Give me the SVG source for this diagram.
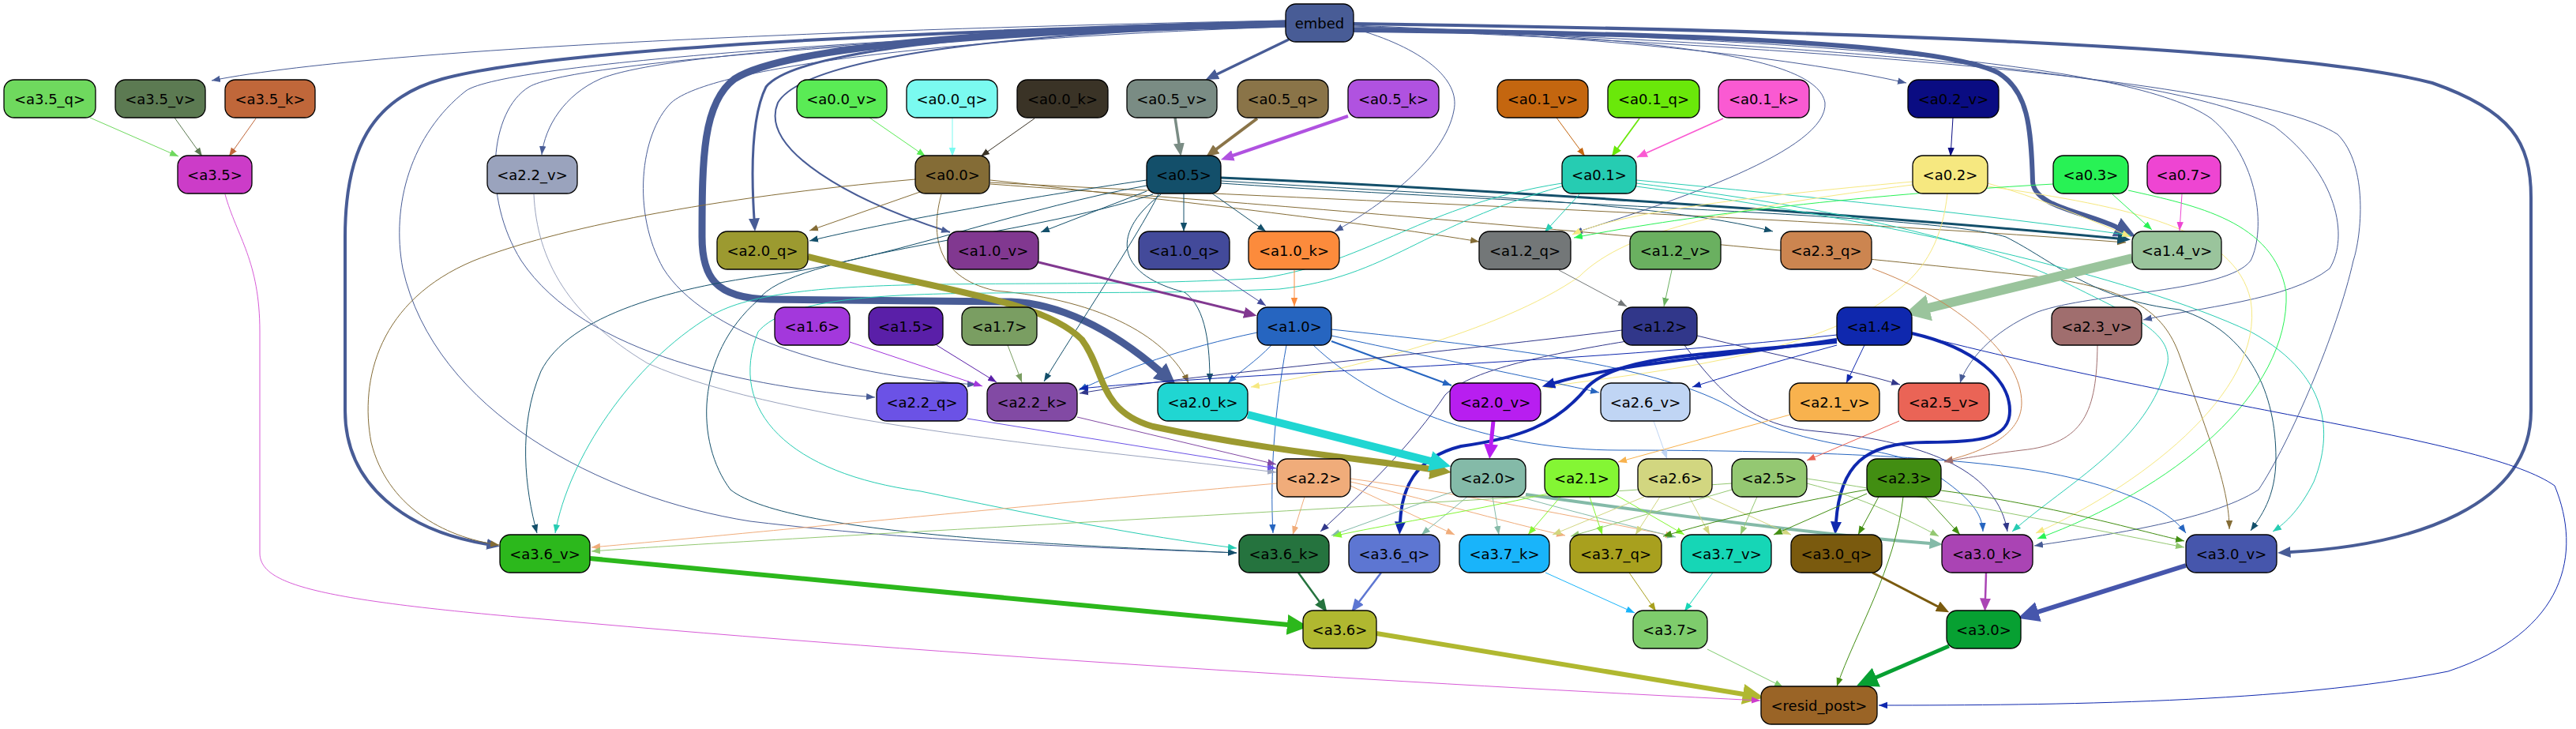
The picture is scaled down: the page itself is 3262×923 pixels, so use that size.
<svg xmlns="http://www.w3.org/2000/svg" width="3262" height="923" viewBox="0 0 3262 923">
<style>
.n rect{stroke:#000;stroke-width:1.3}
.n text{font-family:"DejaVu Sans","Liberation Sans",sans-serif;font-size:18px;text-anchor:middle;dominant-baseline:central;fill:#000}
#edges path{fill:none}
</style>
<defs>
<marker id="s-E" markerUnits="userSpaceOnUse" markerWidth="12" markerHeight="10" refX="11" refY="5" orient="auto"><path d="M0,0.8L11,5L0,9.2z" fill="#485c96"/></marker>
<marker id="s-35q" markerUnits="userSpaceOnUse" markerWidth="12" markerHeight="10" refX="11" refY="5" orient="auto"><path d="M0,0.8L11,5L0,9.2z" fill="#6fd95e"/></marker>
<marker id="s-35v" markerUnits="userSpaceOnUse" markerWidth="12" markerHeight="10" refX="11" refY="5" orient="auto"><path d="M0,0.8L11,5L0,9.2z" fill="#5c7a52"/></marker>
<marker id="s-35k" markerUnits="userSpaceOnUse" markerWidth="12" markerHeight="10" refX="11" refY="5" orient="auto"><path d="M0,0.8L11,5L0,9.2z" fill="#c0673a"/></marker>
<marker id="s-00v" markerUnits="userSpaceOnUse" markerWidth="12" markerHeight="10" refX="11" refY="5" orient="auto"><path d="M0,0.8L11,5L0,9.2z" fill="#5aeb55"/></marker>
<marker id="s-00q" markerUnits="userSpaceOnUse" markerWidth="12" markerHeight="10" refX="11" refY="5" orient="auto"><path d="M0,0.8L11,5L0,9.2z" fill="#7afaf0"/></marker>
<marker id="s-00k" markerUnits="userSpaceOnUse" markerWidth="12" markerHeight="10" refX="11" refY="5" orient="auto"><path d="M0,0.8L11,5L0,9.2z" fill="#3a3326"/></marker>
<marker id="s-01v" markerUnits="userSpaceOnUse" markerWidth="12" markerHeight="10" refX="11" refY="5" orient="auto"><path d="M0,0.8L11,5L0,9.2z" fill="#c4660f"/></marker>
<marker id="s-01q" markerUnits="userSpaceOnUse" markerWidth="14" markerHeight="12" refX="13" refY="6" orient="auto"><path d="M0,0.5L13,6L0,11.5z" fill="#6ae80a"/></marker>
<marker id="s-01k" markerUnits="userSpaceOnUse" markerWidth="14" markerHeight="12" refX="13" refY="6" orient="auto"><path d="M0,0.5L13,6L0,11.5z" fill="#fa5ad2"/></marker>
<marker id="s-02v" markerUnits="userSpaceOnUse" markerWidth="12" markerHeight="10" refX="11" refY="5" orient="auto"><path d="M0,0.8L11,5L0,9.2z" fill="#0a0c82"/></marker>
<marker id="s-00" markerUnits="userSpaceOnUse" markerWidth="12" markerHeight="10" refX="11" refY="5" orient="auto"><path d="M0,0.8L11,5L0,9.2z" fill="#846c36"/></marker>
<marker id="s-05" markerUnits="userSpaceOnUse" markerWidth="12" markerHeight="10" refX="11" refY="5" orient="auto"><path d="M0,0.8L11,5L0,9.2z" fill="#134f6a"/></marker>
<marker id="s-01" markerUnits="userSpaceOnUse" markerWidth="12" markerHeight="10" refX="11" refY="5" orient="auto"><path d="M0,0.8L11,5L0,9.2z" fill="#26ccb2"/></marker>
<marker id="s-02" markerUnits="userSpaceOnUse" markerWidth="12" markerHeight="10" refX="11" refY="5" orient="auto"><path d="M0,0.8L11,5L0,9.2z" fill="#f6e880"/></marker>
<marker id="s-03" markerUnits="userSpaceOnUse" markerWidth="12" markerHeight="10" refX="11" refY="5" orient="auto"><path d="M0,0.8L11,5L0,9.2z" fill="#28f255"/></marker>
<marker id="s-07" markerUnits="userSpaceOnUse" markerWidth="12" markerHeight="10" refX="11" refY="5" orient="auto"><path d="M0,0.8L11,5L0,9.2z" fill="#ee45d2"/></marker>
<marker id="s-10q" markerUnits="userSpaceOnUse" markerWidth="12" markerHeight="10" refX="11" refY="5" orient="auto"><path d="M0,0.8L11,5L0,9.2z" fill="#434a9a"/></marker>
<marker id="s-10k" markerUnits="userSpaceOnUse" markerWidth="12" markerHeight="10" refX="11" refY="5" orient="auto"><path d="M0,0.8L11,5L0,9.2z" fill="#fc8b3c"/></marker>
<marker id="s-12q" markerUnits="userSpaceOnUse" markerWidth="12" markerHeight="10" refX="11" refY="5" orient="auto"><path d="M0,0.8L11,5L0,9.2z" fill="#737778"/></marker>
<marker id="s-12v" markerUnits="userSpaceOnUse" markerWidth="12" markerHeight="10" refX="11" refY="5" orient="auto"><path d="M0,0.8L11,5L0,9.2z" fill="#6ab060"/></marker>
<marker id="s-23q" markerUnits="userSpaceOnUse" markerWidth="12" markerHeight="10" refX="11" refY="5" orient="auto"><path d="M0,0.8L11,5L0,9.2z" fill="#cc8550"/></marker>
<marker id="s-16" markerUnits="userSpaceOnUse" markerWidth="12" markerHeight="10" refX="11" refY="5" orient="auto"><path d="M0,0.8L11,5L0,9.2z" fill="#a338dc"/></marker>
<marker id="s-15" markerUnits="userSpaceOnUse" markerWidth="12" markerHeight="10" refX="11" refY="5" orient="auto"><path d="M0,0.8L11,5L0,9.2z" fill="#5a1fa8"/></marker>
<marker id="s-17" markerUnits="userSpaceOnUse" markerWidth="12" markerHeight="10" refX="11" refY="5" orient="auto"><path d="M0,0.8L11,5L0,9.2z" fill="#7a9e62"/></marker>
<marker id="s-10" markerUnits="userSpaceOnUse" markerWidth="12" markerHeight="10" refX="11" refY="5" orient="auto"><path d="M0,0.8L11,5L0,9.2z" fill="#2665c0"/></marker>
<marker id="s-12" markerUnits="userSpaceOnUse" markerWidth="12" markerHeight="10" refX="11" refY="5" orient="auto"><path d="M0,0.8L11,5L0,9.2z" fill="#31378a"/></marker>
<marker id="s-14" markerUnits="userSpaceOnUse" markerWidth="12" markerHeight="10" refX="11" refY="5" orient="auto"><path d="M0,0.8L11,5L0,9.2z" fill="#0f28ae"/></marker>
<marker id="s-23v" markerUnits="userSpaceOnUse" markerWidth="12" markerHeight="10" refX="11" refY="5" orient="auto"><path d="M0,0.8L11,5L0,9.2z" fill="#a06e6e"/></marker>
<marker id="s-22v" markerUnits="userSpaceOnUse" markerWidth="12" markerHeight="10" refX="11" refY="5" orient="auto"><path d="M0,0.8L11,5L0,9.2z" fill="#9aa3bd"/></marker>
<marker id="s-22q" markerUnits="userSpaceOnUse" markerWidth="12" markerHeight="10" refX="11" refY="5" orient="auto"><path d="M0,0.8L11,5L0,9.2z" fill="#6b52e6"/></marker>
<marker id="s-22k" markerUnits="userSpaceOnUse" markerWidth="12" markerHeight="10" refX="11" refY="5" orient="auto"><path d="M0,0.8L11,5L0,9.2z" fill="#824aa4"/></marker>
<marker id="s-21v" markerUnits="userSpaceOnUse" markerWidth="12" markerHeight="10" refX="11" refY="5" orient="auto"><path d="M0,0.8L11,5L0,9.2z" fill="#f8b24e"/></marker>
<marker id="s-26v" markerUnits="userSpaceOnUse" markerWidth="12" markerHeight="10" refX="11" refY="5" orient="auto"><path d="M0,0.8L11,5L0,9.2z" fill="#c0d5f4"/></marker>
<marker id="s-25v" markerUnits="userSpaceOnUse" markerWidth="12" markerHeight="10" refX="11" refY="5" orient="auto"><path d="M0,0.8L11,5L0,9.2z" fill="#ea6456"/></marker>
<marker id="s-22" markerUnits="userSpaceOnUse" markerWidth="12" markerHeight="10" refX="11" refY="5" orient="auto"><path d="M0,0.8L11,5L0,9.2z" fill="#f0ac7a"/></marker>
<marker id="s-20" markerUnits="userSpaceOnUse" markerWidth="12" markerHeight="10" refX="11" refY="5" orient="auto"><path d="M0,0.8L11,5L0,9.2z" fill="#84baa8"/></marker>
<marker id="s-21" markerUnits="userSpaceOnUse" markerWidth="12" markerHeight="10" refX="11" refY="5" orient="auto"><path d="M0,0.8L11,5L0,9.2z" fill="#84f634"/></marker>
<marker id="s-26" markerUnits="userSpaceOnUse" markerWidth="12" markerHeight="10" refX="11" refY="5" orient="auto"><path d="M0,0.8L11,5L0,9.2z" fill="#d2d680"/></marker>
<marker id="s-25" markerUnits="userSpaceOnUse" markerWidth="12" markerHeight="10" refX="11" refY="5" orient="auto"><path d="M0,0.8L11,5L0,9.2z" fill="#94c872"/></marker>
<marker id="s-23" markerUnits="userSpaceOnUse" markerWidth="12" markerHeight="10" refX="11" refY="5" orient="auto"><path d="M0,0.8L11,5L0,9.2z" fill="#428e12"/></marker>
<marker id="s-37k" markerUnits="userSpaceOnUse" markerWidth="12" markerHeight="10" refX="11" refY="5" orient="auto"><path d="M0,0.8L11,5L0,9.2z" fill="#19b4fa"/></marker>
<marker id="s-37q" markerUnits="userSpaceOnUse" markerWidth="12" markerHeight="10" refX="11" refY="5" orient="auto"><path d="M0,0.8L11,5L0,9.2z" fill="#a8a01e"/></marker>
<marker id="s-37v" markerUnits="userSpaceOnUse" markerWidth="12" markerHeight="10" refX="11" refY="5" orient="auto"><path d="M0,0.8L11,5L0,9.2z" fill="#16d6b6"/></marker>
<marker id="s-37" markerUnits="userSpaceOnUse" markerWidth="12" markerHeight="10" refX="11" refY="5" orient="auto"><path d="M0,0.8L11,5L0,9.2z" fill="#7ecc6c"/></marker>
<marker id="s-35" markerUnits="userSpaceOnUse" markerWidth="12" markerHeight="10" refX="11" refY="5" orient="auto"><path d="M0,0.8L11,5L0,9.2z" fill="#cc3ccc"/></marker>
<marker id="m-E" markerUnits="userSpaceOnUse" markerWidth="17" markerHeight="14" refX="0.5" refY="7" orient="auto"><path d="M0,0L16.5,7L0,14z" fill="#485c96"/></marker>
<marker id="m-05v" markerUnits="userSpaceOnUse" markerWidth="17" markerHeight="14" refX="0.5" refY="7" orient="auto"><path d="M0,0L16.5,7L0,14z" fill="#7a8c84"/></marker>
<marker id="m-05q" markerUnits="userSpaceOnUse" markerWidth="17" markerHeight="14" refX="0.5" refY="7" orient="auto"><path d="M0,0L16.5,7L0,14z" fill="#8a7448"/></marker>
<marker id="m-05k" markerUnits="userSpaceOnUse" markerWidth="17" markerHeight="14" refX="0.5" refY="7" orient="auto"><path d="M0,0L16.5,7L0,14z" fill="#b052e0"/></marker>
<marker id="m-05" markerUnits="userSpaceOnUse" markerWidth="17" markerHeight="14" refX="0.5" refY="7" orient="auto"><path d="M0,0L16.5,7L0,14z" fill="#134f6a"/></marker>
<marker id="m-10v" markerUnits="userSpaceOnUse" markerWidth="17" markerHeight="14" refX="0.5" refY="7" orient="auto"><path d="M0,0L16.5,7L0,14z" fill="#813890"/></marker>
<marker id="m-14" markerUnits="userSpaceOnUse" markerWidth="17" markerHeight="14" refX="0.5" refY="7" orient="auto"><path d="M0,0L16.5,7L0,14z" fill="#0f28ae"/></marker>
<marker id="m-20" markerUnits="userSpaceOnUse" markerWidth="17" markerHeight="14" refX="0.5" refY="7" orient="auto"><path d="M0,0L16.5,7L0,14z" fill="#84baa8"/></marker>
<marker id="m-20v" markerUnits="userSpaceOnUse" markerWidth="19" markerHeight="18" refX="0.5" refY="9" orient="auto"><path d="M0,0L18.5,9L0,18z" fill="#b81ef0"/></marker>
<marker id="m-36k" markerUnits="userSpaceOnUse" markerWidth="17" markerHeight="14" refX="0.5" refY="7" orient="auto"><path d="M0,0L16.5,7L0,14z" fill="#25733e"/></marker>
<marker id="m-36q" markerUnits="userSpaceOnUse" markerWidth="17" markerHeight="14" refX="0.5" refY="7" orient="auto"><path d="M0,0L16.5,7L0,14z" fill="#5d76d2"/></marker>
<marker id="m-30q" markerUnits="userSpaceOnUse" markerWidth="17" markerHeight="14" refX="0.5" refY="7" orient="auto"><path d="M0,0L16.5,7L0,14z" fill="#7a5a0e"/></marker>
<marker id="m-30k" markerUnits="userSpaceOnUse" markerWidth="17" markerHeight="14" refX="0.5" refY="7" orient="auto"><path d="M0,0L16.5,7L0,14z" fill="#aa44b4"/></marker>
<marker id="b-E" markerUnits="userSpaceOnUse" markerWidth="28" markerHeight="26" refX="1" refY="13" orient="auto"><path d="M0,0L27,13L0,26z" fill="#485c96"/></marker>
<marker id="b-20q" markerUnits="userSpaceOnUse" markerWidth="28" markerHeight="26" refX="1" refY="13" orient="auto"><path d="M0,0L27,13L0,26z" fill="#9c9a30"/></marker>
<marker id="b-20k" markerUnits="userSpaceOnUse" markerWidth="28" markerHeight="26" refX="1" refY="13" orient="auto"><path d="M0,0L27,13L0,26z" fill="#20d6d2"/></marker>
<marker id="b-36v" markerUnits="userSpaceOnUse" markerWidth="28" markerHeight="26" refX="1" refY="13" orient="auto"><path d="M0,0L27,13L0,26z" fill="#2cb81c"/></marker>
<marker id="b-30v" markerUnits="userSpaceOnUse" markerWidth="28" markerHeight="26" refX="1" refY="13" orient="auto"><path d="M0,0L27,13L0,26z" fill="#4656ac"/></marker>
<marker id="b-36" markerUnits="userSpaceOnUse" markerWidth="28" markerHeight="26" refX="1" refY="13" orient="auto"><path d="M0,0L27,13L0,26z" fill="#b0b830"/></marker>
<marker id="b-30" markerUnits="userSpaceOnUse" markerWidth="28" markerHeight="26" refX="1" refY="13" orient="auto"><path d="M0,0L27,13L0,26z" fill="#07a032"/></marker>
<marker id="h-14v" markerUnits="userSpaceOnUse" markerWidth="34" markerHeight="34" refX="1" refY="17" orient="auto"><path d="M0,0L32,17L0,34z" fill="#9ac49c"/></marker>
</defs>
<rect width="3262" height="923" fill="#fff"/>
<g id="edges">
<!-- embed -->
<path d="M1628,26 C1200,34 500,56 268,102" stroke="#485c96" stroke-width="1" marker-end="url(#s-E)"/>
<path d="M1628,32 C1150,45 830,70 760,100 C715,120 690,160 686,196" stroke="#485c96" stroke-width="1" marker-end="url(#s-E)"/>
<path d="M1628,33 C1150,46 720,80 670,110 C620,140 610,250 660,330 C740,450 950,490 1108,503" stroke="#485c96" stroke-width="1" marker-end="url(#s-E)"/>
<path d="M1628,34 C1200,48 900,85 850,130 C810,170 800,270 840,340 C890,420 1050,475 1236,487" stroke="#485c96" stroke-width="1" marker-end="url(#s-E)"/>
<path d="M1628,31 C1150,44 640,80 590,115 C520,170 495,260 510,340 C550,520 760,630 950,660 C1200,690 1450,695 1566,700" stroke="#485c96" stroke-width="1" marker-end="url(#s-E)"/>
<path d="M1628,28 C1150,40 700,62 560,100 C470,125 437,190 437,300 L437,520 C437,615 515,672 617,689" stroke="#485c96" stroke-width="4" marker-end="url(#m-E)"/>
<path d="M1628,30 C1300,38 1000,55 930,100 C890,130 889,200 889,300 C889,350 905,378 975,379 L1280,382 C1340,384 1405,415 1469,470" stroke="#485c96" stroke-width="9" marker-end="url(#b-E)"/>
<path d="M1628,30 C1300,36 1010,60 970,110 C950,150 952,230 955,277" stroke="#485c96" stroke-width="3" marker-end="url(#m-E)"/>
<path d="M1628,32 C1300,40 1020,70 985,130 C960,190 1080,255 1203,294" stroke="#485c96" stroke-width="2" marker-end="url(#s-E)"/>
<path d="M1632,50 L1541,94" stroke="#485c96" stroke-width="3.5" marker-end="url(#m-E)"/>
<path d="M1714,36 C1800,60 1850,100 1841,140 C1830,200 1750,260 1690,293" stroke="#485c96" stroke-width="1" marker-end="url(#s-E)"/>
<path d="M1714,32 C2100,48 2300,70 2311,130 C2316,190 2120,255 1993,295" stroke="#485c96" stroke-width="1" marker-end="url(#s-E)"/>
<path d="M1714,33 C2000,45 2260,70 2414,105" stroke="#485c96" stroke-width="1" marker-end="url(#s-E)"/>
<path d="M1714,38 C2100,42 2450,52 2530,92 C2568,115 2572,160 2574,230 C2576,262 2640,268 2681,288" stroke="#485c96" stroke-width="6" marker-end="url(#b-E)"/>
<path d="M1714,30 C2300,38 2900,58 3080,105 C3180,140 3205,180 3205,250 L3205,520 C3205,640 3060,690 2900,699" stroke="#485c96" stroke-width="4" marker-end="url(#m-E)"/>
<path d="M1714,34 C2300,50 2700,80 2800,150 C2860,200 2870,290 2850,330 C2820,370 2650,370 2580,395 C2520,420 2490,460 2482,485" stroke="#485c96" stroke-width="1" marker-end="url(#s-E)"/>
<path d="M1714,35 C2300,55 2750,90 2880,160 C2960,220 2975,300 2950,340 C2900,380 2780,390 2714,405" stroke="#485c96" stroke-width="1" marker-end="url(#s-E)"/>
<path d="M1714,36 C2300,60 2850,100 2960,170 C3000,210 2990,300 2980,330 C2960,420 2900,560 2860,620 C2800,660 2650,680 2576,691" stroke="#485c96" stroke-width="1" marker-end="url(#s-E)"/>
<!-- row B to C -->
<path d="M114,149 L226,198" stroke="#6fd95e" stroke-width="1" marker-end="url(#s-35q)"/>
<path d="M221,149 L256,198" stroke="#5c7a52" stroke-width="1" marker-end="url(#s-35v)"/>
<path d="M324,150 L290,198" stroke="#c0673a" stroke-width="1" marker-end="url(#s-35k)"/>
<path d="M1101,149 L1172,198" stroke="#5aeb55" stroke-width="1" marker-end="url(#s-00v)"/>
<path d="M1206,149 L1206,198" stroke="#7afaf0" stroke-width="1" marker-end="url(#s-00q)"/>
<path d="M1310,150 L1242,198" stroke="#3a3326" stroke-width="1" marker-end="url(#s-00k)"/>
<path d="M1488,149 L1493,182" stroke="#7a8c84" stroke-width="3.5" marker-end="url(#m-05v)"/>
<path d="M1592,150 L1540,189" stroke="#8a7448" stroke-width="4" marker-end="url(#m-05q)"/>
<path d="M1707,147 L1561,197" stroke="#b052e0" stroke-width="4" marker-end="url(#m-05k)"/>
<path d="M1971,149 L2007,198" stroke="#c4660f" stroke-width="1" marker-end="url(#s-01v)"/>
<path d="M2076,150 L2041,198" stroke="#6ae80a" stroke-width="1.8" marker-end="url(#s-01q)"/>
<path d="M2182,150 L2073,199" stroke="#fa5ad2" stroke-width="1.8" marker-end="url(#s-01k)"/>
<path d="M2473,149 L2470,198" stroke="#0a0c82" stroke-width="1" marker-end="url(#s-02v)"/>
<!-- a0.0 -->
<path d="M1165,243 L1025,292" stroke="#846c36" stroke-width="1" marker-end="url(#s-00)"/>
<path d="M1254,228 C1500,255 1750,285 1873,306" stroke="#846c36" stroke-width="1" marker-end="url(#s-00)"/>
<path d="M1254,231 C1700,255 2200,270 2692,307" stroke="#846c36" stroke-width="1" marker-end="url(#s-00)"/>
<path d="M1254,233 C1800,272 2300,320 2560,348 C2700,362 2740,395 2760,450 C2800,560 2823,620 2823,670" stroke="#846c36" stroke-width="1" marker-end="url(#s-00)"/>
<path d="M1159,227 C900,250 700,290 600,330 C480,380 455,480 470,560 C490,640 560,680 632,690" stroke="#846c36" stroke-width="1" marker-end="url(#s-00)"/>
<path d="M1192,246 C1180,290 1180,350 1260,368 C1400,380 1480,430 1505,485" stroke="#846c36" stroke-width="1" marker-end="url(#s-00)"/>
<!-- a0.5 -->
<path d="M1452,228 C1300,250 1120,282 1025,305" stroke="#134f6a" stroke-width="1" marker-end="url(#s-05)"/>
<path d="M1452,242 L1318,294" stroke="#134f6a" stroke-width="1" marker-end="url(#s-05)"/>
<path d="M1499,245 L1499,293" stroke="#134f6a" stroke-width="1" marker-end="url(#s-05)"/>
<path d="M1535,245 L1603,293" stroke="#134f6a" stroke-width="1" marker-end="url(#s-05)"/>
<path d="M1546,229 C1800,245 2100,255 2245,293" stroke="#134f6a" stroke-width="1" marker-end="url(#s-05)"/>
<path d="M1546,225 C1900,240 2400,275 2682,302" stroke="#134f6a" stroke-width="3" marker-end="url(#m-05)"/>
<path d="M1546,232 C2000,262 2450,272 2540,300 C2600,330 2650,380 2760,392 C2850,420 2882,500 2882,580 C2882,630 2862,655 2850,672" stroke="#134f6a" stroke-width="1" marker-end="url(#s-05)"/>
<path d="M1467,246 C1440,300 1360,420 1322,483" stroke="#134f6a" stroke-width="1" marker-end="url(#s-05)"/>
<path d="M1470,246 C1400,300 1420,350 1500,370 C1528,390 1532,440 1532,484" stroke="#134f6a" stroke-width="1" marker-end="url(#s-05)"/>
<path d="M1452,235 C1300,262 1150,320 1000,345 C850,362 720,400 685,470 C655,540 665,620 680,675" stroke="#134f6a" stroke-width="1" marker-end="url(#s-05)"/>
<path d="M1460,246 C1300,300 1000,320 960,380 C880,450 880,560 925,620 C1000,680 1400,692 1566,700" stroke="#134f6a" stroke-width="1" marker-end="url(#s-05)"/>
<!-- a0.1 -->
<path d="M2000,246 L1956,294" stroke="#26ccb2" stroke-width="1" marker-end="url(#s-01)"/>
<path d="M2072,228 C2300,250 2500,270 2698,298" stroke="#26ccb2" stroke-width="1" marker-end="url(#s-01)"/>
<path d="M2072,232 C2300,260 2500,300 2620,360 C2700,400 2750,420 2745,460 C2720,560 2620,610 2548,673" stroke="#26ccb2" stroke-width="1" marker-end="url(#s-01)"/>
<path d="M2072,236 C2400,280 2700,350 2850,420 C2960,480 2950,560 2930,610 C2910,650 2890,665 2878,673" stroke="#26ccb2" stroke-width="1" marker-end="url(#s-01)"/>
<path d="M1978,232 C1800,260 1740,330 1600,352 C1300,370 1000,340 900,400 C800,460 720,580 703,675" stroke="#26ccb2" stroke-width="1" marker-end="url(#s-01)"/>
<path d="M1978,236 C1800,285 1760,350 1620,366 C1300,380 1020,350 960,420 C920,520 1000,600 1166,622 C1300,650 1450,680 1566,694" stroke="#26ccb2" stroke-width="1" marker-end="url(#s-01)"/>
<!-- a0.2 a0.3 a0.7 -->
<path d="M2422,230 C2200,250 2050,270 1991,297" stroke="#f6e880" stroke-width="1" marker-end="url(#s-02)"/>
<path d="M2517,232 C2580,250 2640,275 2698,300" stroke="#f6e880" stroke-width="1" marker-end="url(#s-02)"/>
<path d="M2422,234 C2200,262 2060,290 2000,350 C1900,420 1700,470 1584,490" stroke="#f6e880" stroke-width="1" marker-end="url(#s-02)"/>
<path d="M2466,245 C2460,300 2440,340 2400,370 C2300,450 2100,470 1955,490" stroke="#f6e880" stroke-width="1" marker-end="url(#s-02)"/>
<path d="M2517,236 C2700,262 2830,290 2850,380 C2870,500 2700,620 2578,675" stroke="#f6e880" stroke-width="1" marker-end="url(#s-02)"/>
<path d="M2600,233 C2300,250 2100,280 1993,301" stroke="#28f255" stroke-width="1" marker-end="url(#s-03)"/>
<path d="M2675,246 L2725,291" stroke="#28f255" stroke-width="1" marker-end="url(#s-03)"/>
<path d="M2695,241 C2780,260 2880,280 2895,370 C2900,500 2750,620 2580,682" stroke="#28f255" stroke-width="1" marker-end="url(#s-03)"/>
<path d="M2763,246 L2760,292" stroke="#ee45d2" stroke-width="1" marker-end="url(#s-07)"/>
<!-- row D to E -->
<path d="M1315,332 L1576,396" stroke="#813890" stroke-width="3" marker-end="url(#m-10v)"/>
<path d="M1535,342 L1603,387" stroke="#434a9a" stroke-width="1" marker-end="url(#s-10q)"/>
<path d="M1639,342 L1639,388" stroke="#fc8b3c" stroke-width="1" marker-end="url(#s-10k)"/>
<path d="M1974,342 L2060,388" stroke="#737778" stroke-width="1" marker-end="url(#s-12q)"/>
<path d="M2117,342 L2107,388" stroke="#6ab060" stroke-width="1" marker-end="url(#s-12v)"/>
<path d="M2700,327 L2442,390" stroke="#9ac49c" stroke-width="12" marker-end="url(#h-14v)"/>
<path d="M2371,340 C2480,380 2560,450 2560,510 C2560,552 2510,572 2462,584" stroke="#cc8550" stroke-width="1" marker-end="url(#s-23q)"/>
<!-- row E to F -->
<path d="M1076,433 L1244,489" stroke="#a338dc" stroke-width="1" marker-end="url(#s-16)"/>
<path d="M1186,437 L1262,484" stroke="#5a1fa8" stroke-width="1" marker-end="url(#s-15)"/>
<path d="M1276,437 L1294,484" stroke="#7a9e62" stroke-width="1" marker-end="url(#s-17)"/>
<path d="M1592,421 C1500,440 1420,468 1366,494" stroke="#2665c0" stroke-width="1" marker-end="url(#s-10)"/>
<path d="M1610,437 C1590,458 1570,470 1555,485" stroke="#2665c0" stroke-width="1" marker-end="url(#s-10)"/>
<path d="M1686,432 L1838,488" stroke="#2665c0" stroke-width="2" marker-end="url(#s-10)"/>
<path d="M1686,425 C1800,450 1950,480 2025,497" stroke="#2665c0" stroke-width="1" marker-end="url(#s-10)"/>
<path d="M1686,417 C1900,440 2100,460 2200,520 C2300,575 2400,560 2450,600 C2495,630 2510,650 2511,673" stroke="#2665c0" stroke-width="1" marker-end="url(#s-10)"/>
<path d="M1663,437 C1750,520 1900,570 2050,570 C2300,570 2500,580 2600,600 C2700,620 2750,650 2768,675" stroke="#2665c0" stroke-width="1" marker-end="url(#s-10)"/>
<path d="M1629,437 C1614,520 1608,600 1612,675" stroke="#2665c0" stroke-width="1" marker-end="url(#s-10)"/>
<path d="M2054,418 C1800,450 1500,475 1367,498" stroke="#31378a" stroke-width="1" marker-end="url(#s-12)"/>
<path d="M2149,425 C2250,450 2350,470 2406,487" stroke="#31378a" stroke-width="1" marker-end="url(#s-12)"/>
<path d="M2060,432 C1950,450 1860,470 1830,500 C1790,560 1730,620 1672,673" stroke="#31378a" stroke-width="1" marker-end="url(#s-12)"/>
<path d="M2133,437 C2180,500 2220,540 2300,546 C2450,560 2530,600 2542,673" stroke="#31378a" stroke-width="1" marker-end="url(#s-12)"/>
<path d="M2326,430 C2200,450 2060,458 1968,485" stroke="#0f28ae" stroke-width="4" marker-end="url(#m-14)"/>
<path d="M2326,437 C2250,458 2200,472 2143,490" stroke="#0f28ae" stroke-width="1" marker-end="url(#s-14)"/>
<path d="M2361,437 L2338,485" stroke="#0f28ae" stroke-width="1" marker-end="url(#s-14)"/>
<path d="M2326,424 C2000,460 1600,470 1367,492" stroke="#0f28ae" stroke-width="1" marker-end="url(#s-14)"/>
<path d="M2326,433 C2150,450 2050,450 2010,490 C1970,540 1920,555 1850,565 C1790,580 1775,620 1773,661" stroke="#0f28ae" stroke-width="4" marker-end="url(#m-14)"/>
<path d="M2421,422 C2500,440 2545,480 2545,520 C2545,555 2510,560 2440,560 C2360,560 2330,590 2325,661" stroke="#0f28ae" stroke-width="4" marker-end="url(#m-14)"/>
<path d="M2421,422 C2800,520 3150,555 3235,615 C3270,700 3250,800 3100,850 C2900,890 2600,893 2379,893" stroke="#0f28ae" stroke-width="1" marker-end="url(#s-14)"/>
<path d="M2656,437 C2655,520 2640,562 2560,570 C2520,575 2485,580 2462,585" stroke="#a06e6e" stroke-width="1" marker-end="url(#s-23v)"/>
<!-- row F to G -->
<path d="M676,246 C680,330 720,400 820,460 C1000,540 1400,570 1616,598" stroke="#9aa3bd" stroke-width="1" marker-end="url(#s-22v)"/>
<path d="M1225,530 L1616,593" stroke="#6b52e6" stroke-width="1" marker-end="url(#s-22q)"/>
<path d="M1364,528 L1616,588" stroke="#824aa4" stroke-width="1" marker-end="url(#s-22k)"/>
<path d="M1023,325 C1200,370 1320,380 1370,430 C1400,470 1390,520 1460,540 C1600,570 1720,580 1812,594" stroke="#9c9a30" stroke-width="8" marker-end="url(#b-20q)"/>
<path d="M1580,525 L1812,584" stroke="#20d6d2" stroke-width="10" marker-end="url(#b-20k)"/>
<path d="M1891,533 L1888,563" stroke="#b81ef0" stroke-width="5" marker-end="url(#m-20v)"/>
<path d="M2267,525 L2049,585" stroke="#f8b24e" stroke-width="1" marker-end="url(#s-21v)"/>
<path d="M2094,533 L2111,581" stroke="#c0d5f4" stroke-width="1" marker-end="url(#s-26v)"/>
<path d="M2405,533 L2288,583" stroke="#ea6456" stroke-width="1" marker-end="url(#s-25v)"/>
<!-- row G to H -->
<path d="M1617,612 C1300,640 900,680 749,693" stroke="#f0ac7a" stroke-width="1" marker-end="url(#s-22)"/>
<path d="M1652,629 L1637,677" stroke="#f0ac7a" stroke-width="1" marker-end="url(#s-22)"/>
<path d="M1710,615 L1842,677" stroke="#f0ac7a" stroke-width="1" marker-end="url(#s-22)"/>
<path d="M1710,610 C1800,630 1900,660 1982,678" stroke="#f0ac7a" stroke-width="1" marker-end="url(#s-22)"/>
<path d="M1710,606 C1850,625 2000,655 2120,679" stroke="#f0ac7a" stroke-width="1" marker-end="url(#s-22)"/>
<path d="M1838,623 L1686,678" stroke="#84baa8" stroke-width="1" marker-end="url(#s-20)"/>
<path d="M1858,629 L1800,677" stroke="#84baa8" stroke-width="1" marker-end="url(#s-20)"/>
<path d="M1890,629 L1898,677" stroke="#84baa8" stroke-width="1" marker-end="url(#s-20)"/>
<path d="M1924,629 C2000,650 2060,665 2122,680" stroke="#84baa8" stroke-width="1" marker-end="url(#s-20)"/>
<path d="M1932,626 C2100,650 2300,676 2444,688" stroke="#84baa8" stroke-width="4" marker-end="url(#m-20)"/>
<path d="M1960,625 C1850,650 1750,665 1688,679" stroke="#84f634" stroke-width="1" marker-end="url(#s-21)"/>
<path d="M1976,629 L1935,677" stroke="#84f634" stroke-width="1" marker-end="url(#s-21)"/>
<path d="M2013,629 L2029,677" stroke="#84f634" stroke-width="1" marker-end="url(#s-21)"/>
<path d="M2045,626 L2133,677" stroke="#84f634" stroke-width="1" marker-end="url(#s-21)"/>
<path d="M2082,629 L1966,677" stroke="#d2d680" stroke-width="1" marker-end="url(#s-26)"/>
<path d="M2102,629 L2071,677" stroke="#d2d680" stroke-width="1" marker-end="url(#s-26)"/>
<path d="M2139,629 L2165,677" stroke="#d2d680" stroke-width="1" marker-end="url(#s-26)"/>
<path d="M2160,628 L2268,677" stroke="#d2d680" stroke-width="1" marker-end="url(#s-26)"/>
<path d="M2193,612 C1800,640 1000,680 749,698" stroke="#94c872" stroke-width="1" marker-end="url(#s-25)"/>
<path d="M2193,620 L1989,679" stroke="#94c872" stroke-width="1" marker-end="url(#s-25)"/>
<path d="M2225,629 L2204,677" stroke="#94c872" stroke-width="1" marker-end="url(#s-25)"/>
<path d="M2288,612 C2360,630 2420,660 2455,679" stroke="#94c872" stroke-width="1" marker-end="url(#s-25)"/>
<path d="M2288,606 C2450,630 2650,670 2766,693" stroke="#94c872" stroke-width="1" marker-end="url(#s-25)"/>
<path d="M2364,620 C2250,640 2170,660 2106,679" stroke="#428e12" stroke-width="1" marker-end="url(#s-23)"/>
<path d="M2364,625 L2246,677" stroke="#428e12" stroke-width="1" marker-end="url(#s-23)"/>
<path d="M2379,629 L2353,677" stroke="#428e12" stroke-width="1" marker-end="url(#s-23)"/>
<path d="M2438,629 L2482,677" stroke="#428e12" stroke-width="1" marker-end="url(#s-23)"/>
<path d="M2458,621 C2600,640 2700,670 2766,685" stroke="#428e12" stroke-width="1" marker-end="url(#s-23)"/>
<path d="M2410,629 C2400,720 2350,800 2326,869" stroke="#428e12" stroke-width="1" marker-end="url(#s-23)"/>
<!-- row H to I, I to J -->
<path d="M747,707 L1631,791" stroke="#2cb81c" stroke-width="6" marker-end="url(#b-36v)"/>
<path d="M1644,725 L1671,762" stroke="#25733e" stroke-width="2.5" marker-end="url(#m-36k)"/>
<path d="M1749,725 L1721,762" stroke="#5d76d2" stroke-width="2.5" marker-end="url(#m-36q)"/>
<path d="M1957,725 L2070,776" stroke="#19b4fa" stroke-width="1" marker-end="url(#s-37k)"/>
<path d="M2063,725 L2097,774" stroke="#a8a01e" stroke-width="1" marker-end="url(#s-37q)"/>
<path d="M2169,725 L2133,774" stroke="#16d6b6" stroke-width="1" marker-end="url(#s-37v)"/>
<path d="M2371,725 L2454,768" stroke="#7a5a0e" stroke-width="3" marker-end="url(#m-30q)"/>
<path d="M2515,725 L2514,758" stroke="#aa44b4" stroke-width="2.5" marker-end="url(#m-30k)"/>
<path d="M2768,716 L2580,775" stroke="#4656ac" stroke-width="6" marker-end="url(#b-30v)"/>
<path d="M1743,802 L2208,879" stroke="#b0b830" stroke-width="6" marker-end="url(#b-36)"/>
<path d="M2162,822 L2258,870" stroke="#7ecc6c" stroke-width="1" marker-end="url(#s-37)"/>
<path d="M2468,818 L2375,858" stroke="#07a032" stroke-width="5" marker-end="url(#b-30)"/>
<path d="M285,246 C300,300 329,330 329,420 L329,700 C329,740 400,760 700,785 C1200,830 1800,866 2229,887" stroke="#d75ad7" stroke-width="1" marker-end="url(#s-35)"/>
</g>
<g id="n-embed" class="n"><rect x="1628" y="5" width="86" height="48" rx="13" fill="#485c96"/><text x="1671" y="29">embed</text></g>
<g id="n-a3_5_q" class="n"><rect x="5" y="101" width="116" height="48" rx="13" fill="#6fd95e"/><text x="63" y="125">&lt;a3.5_q&gt;</text></g>
<g id="n-a3_5_v" class="n"><rect x="146" y="101" width="114" height="48" rx="13" fill="#5c7a52"/><text x="203" y="125">&lt;a3.5_v&gt;</text></g>
<g id="n-a3_5_k" class="n"><rect x="285" y="101" width="114" height="48" rx="13" fill="#c0673a"/><text x="342" y="125">&lt;a3.5_k&gt;</text></g>
<g id="n-a0_0_v" class="n"><rect x="1009" y="101" width="114" height="48" rx="13" fill="#5aeb55"/><text x="1066" y="125">&lt;a0.0_v&gt;</text></g>
<g id="n-a0_0_q" class="n"><rect x="1148" y="101" width="115" height="48" rx="13" fill="#7afaf0"/><text x="1205.5" y="125">&lt;a0.0_q&gt;</text></g>
<g id="n-a0_0_k" class="n"><rect x="1288" y="101" width="115" height="48" rx="13" fill="#3a3326"/><text x="1345.5" y="125">&lt;a0.0_k&gt;</text></g>
<g id="n-a0_5_v" class="n"><rect x="1427" y="101" width="114" height="48" rx="13" fill="#7a8c84"/><text x="1484" y="125">&lt;a0.5_v&gt;</text></g>
<g id="n-a0_5_q" class="n"><rect x="1567" y="101" width="115" height="48" rx="13" fill="#8a7448"/><text x="1624.5" y="125">&lt;a0.5_q&gt;</text></g>
<g id="n-a0_5_k" class="n"><rect x="1707" y="101" width="115" height="48" rx="13" fill="#b052e0"/><text x="1764.5" y="125">&lt;a0.5_k&gt;</text></g>
<g id="n-a0_1_v" class="n"><rect x="1896" y="101" width="115" height="48" rx="13" fill="#c4660f"/><text x="1953.5" y="125">&lt;a0.1_v&gt;</text></g>
<g id="n-a0_1_q" class="n"><rect x="2036" y="101" width="116" height="48" rx="13" fill="#6ae80a"/><text x="2094" y="125">&lt;a0.1_q&gt;</text></g>
<g id="n-a0_1_k" class="n"><rect x="2176" y="101" width="115" height="48" rx="13" fill="#fa5ad2"/><text x="2233.5" y="125">&lt;a0.1_k&gt;</text></g>
<g id="n-a0_2_v" class="n"><rect x="2416" y="101" width="115" height="48" rx="13" fill="#0a0c82"/><text x="2473.5" y="125">&lt;a0.2_v&gt;</text></g>
<g id="n-a3_5" class="n"><rect x="225" y="197" width="94" height="48" rx="13" fill="#cc3cc8"/><text x="272" y="221">&lt;a3.5&gt;</text></g>
<g id="n-a2_2_v" class="n"><rect x="617" y="197" width="114" height="48" rx="13" fill="#9aa3bd"/><text x="674" y="221">&lt;a2.2_v&gt;</text></g>
<g id="n-a0_0" class="n"><rect x="1159" y="197" width="94" height="48" rx="13" fill="#846c36"/><text x="1206" y="221">&lt;a0.0&gt;</text></g>
<g id="n-a0_5" class="n"><rect x="1452" y="197" width="94" height="48" rx="13" fill="#134f6a"/><text x="1499" y="221">&lt;a0.5&gt;</text></g>
<g id="n-a0_1" class="n"><rect x="1978" y="197" width="94" height="48" rx="13" fill="#26ccb2"/><text x="2025" y="221">&lt;a0.1&gt;</text></g>
<g id="n-a0_2" class="n"><rect x="2422" y="197" width="95" height="48" rx="13" fill="#f6e880"/><text x="2469.5" y="221">&lt;a0.2&gt;</text></g>
<g id="n-a0_3" class="n"><rect x="2600" y="197" width="95" height="48" rx="13" fill="#28f255"/><text x="2647.5" y="221">&lt;a0.3&gt;</text></g>
<g id="n-a0_7" class="n"><rect x="2719" y="197" width="93" height="48" rx="13" fill="#ee45d2"/><text x="2765.5" y="221">&lt;a0.7&gt;</text></g>
<g id="n-a2_0_q" class="n"><rect x="908" y="293" width="115" height="48" rx="13" fill="#9c9a30"/><text x="965.5" y="317">&lt;a2.0_q&gt;</text></g>
<g id="n-a1_0_v" class="n"><rect x="1200" y="293" width="115" height="48" rx="13" fill="#813890"/><text x="1257.5" y="317">&lt;a1.0_v&gt;</text></g>
<g id="n-a1_0_q" class="n"><rect x="1442" y="293" width="115" height="48" rx="13" fill="#434a9a"/><text x="1499.5" y="317">&lt;a1.0_q&gt;</text></g>
<g id="n-a1_0_k" class="n"><rect x="1581" y="293" width="115" height="48" rx="13" fill="#fc8b3c"/><text x="1638.5" y="317">&lt;a1.0_k&gt;</text></g>
<g id="n-a1_2_q" class="n"><rect x="1873" y="293" width="116" height="48" rx="13" fill="#737778"/><text x="1931" y="317">&lt;a1.2_q&gt;</text></g>
<g id="n-a1_2_v" class="n"><rect x="2064" y="293" width="115" height="48" rx="13" fill="#6ab060"/><text x="2121.5" y="317">&lt;a1.2_v&gt;</text></g>
<g id="n-a2_3_q" class="n"><rect x="2255" y="293" width="115" height="48" rx="13" fill="#cc8550"/><text x="2312.5" y="317">&lt;a2.3_q&gt;</text></g>
<g id="n-a1_4_v" class="n"><rect x="2700" y="293" width="113" height="48" rx="13" fill="#9ac49c"/><text x="2756.5" y="317">&lt;a1.4_v&gt;</text></g>
<g id="n-a1_6" class="n"><rect x="981" y="389" width="95" height="48" rx="13" fill="#a338dc"/><text x="1028.5" y="413">&lt;a1.6&gt;</text></g>
<g id="n-a1_5" class="n"><rect x="1100" y="389" width="94" height="48" rx="13" fill="#5a1fa8"/><text x="1147" y="413">&lt;a1.5&gt;</text></g>
<g id="n-a1_7" class="n"><rect x="1218" y="389" width="95" height="48" rx="13" fill="#7a9e62"/><text x="1265.5" y="413">&lt;a1.7&gt;</text></g>
<g id="n-a1_0" class="n"><rect x="1592" y="389" width="94" height="48" rx="13" fill="#2665c0"/><text x="1639" y="413">&lt;a1.0&gt;</text></g>
<g id="n-a1_2" class="n"><rect x="2054" y="389" width="95" height="48" rx="13" fill="#31378a"/><text x="2101.5" y="413">&lt;a1.2&gt;</text></g>
<g id="n-a1_4" class="n"><rect x="2326" y="389" width="95" height="48" rx="13" fill="#0f28ae"/><text x="2373.5" y="413">&lt;a1.4&gt;</text></g>
<g id="n-a2_3_v" class="n"><rect x="2598" y="389" width="114" height="48" rx="13" fill="#a06e6e"/><text x="2655" y="413">&lt;a2.3_v&gt;</text></g>
<g id="n-a2_2_q" class="n"><rect x="1110" y="485" width="115" height="48" rx="13" fill="#6b52e6"/><text x="1167.5" y="509">&lt;a2.2_q&gt;</text></g>
<g id="n-a2_2_k" class="n"><rect x="1250" y="485" width="114" height="48" rx="13" fill="#824aa4"/><text x="1307" y="509">&lt;a2.2_k&gt;</text></g>
<g id="n-a2_0_k" class="n"><rect x="1466" y="485" width="114" height="48" rx="13" fill="#20d6d2"/><text x="1523" y="509">&lt;a2.0_k&gt;</text></g>
<g id="n-a2_0_v" class="n"><rect x="1836" y="485" width="115" height="48" rx="13" fill="#b81ef0"/><text x="1893.5" y="509">&lt;a2.0_v&gt;</text></g>
<g id="n-a2_6_v" class="n"><rect x="2027" y="485" width="113" height="48" rx="13" fill="#c0d5f4"/><text x="2083.5" y="509">&lt;a2.6_v&gt;</text></g>
<g id="n-a2_1_v" class="n"><rect x="2266" y="485" width="114" height="48" rx="13" fill="#f8b24e"/><text x="2323" y="509">&lt;a2.1_v&gt;</text></g>
<g id="n-a2_5_v" class="n"><rect x="2404" y="485" width="115" height="48" rx="13" fill="#ea6456"/><text x="2461.5" y="509">&lt;a2.5_v&gt;</text></g>
<g id="n-a2_2" class="n"><rect x="1617" y="581" width="93" height="48" rx="13" fill="#f0ac7a"/><text x="1663.5" y="605">&lt;a2.2&gt;</text></g>
<g id="n-a2_0" class="n"><rect x="1837" y="581" width="95" height="48" rx="13" fill="#84baa8"/><text x="1884.5" y="605">&lt;a2.0&gt;</text></g>
<g id="n-a2_1" class="n"><rect x="1956" y="581" width="94" height="48" rx="13" fill="#84f634"/><text x="2003" y="605">&lt;a2.1&gt;</text></g>
<g id="n-a2_6" class="n"><rect x="2074" y="581" width="94" height="48" rx="13" fill="#d2d680"/><text x="2121" y="605">&lt;a2.6&gt;</text></g>
<g id="n-a2_5" class="n"><rect x="2193" y="581" width="95" height="48" rx="13" fill="#94c872"/><text x="2240.5" y="605">&lt;a2.5&gt;</text></g>
<g id="n-a2_3" class="n"><rect x="2364" y="581" width="94" height="48" rx="13" fill="#428e12"/><text x="2411" y="605">&lt;a2.3&gt;</text></g>
<g id="n-a3_6_v" class="n"><rect x="633" y="677" width="114" height="48" rx="13" fill="#2cb81c"/><text x="690" y="701">&lt;a3.6_v&gt;</text></g>
<g id="n-a3_6_k" class="n"><rect x="1569" y="677" width="114" height="48" rx="13" fill="#25733e"/><text x="1626" y="701">&lt;a3.6_k&gt;</text></g>
<g id="n-a3_6_q" class="n"><rect x="1708" y="677" width="115" height="48" rx="13" fill="#5d76d2"/><text x="1765.5" y="701">&lt;a3.6_q&gt;</text></g>
<g id="n-a3_7_k" class="n"><rect x="1848" y="677" width="114" height="48" rx="13" fill="#19b4fa"/><text x="1905" y="701">&lt;a3.7_k&gt;</text></g>
<g id="n-a3_7_q" class="n"><rect x="1988" y="677" width="116" height="48" rx="13" fill="#a8a01e"/><text x="2046" y="701">&lt;a3.7_q&gt;</text></g>
<g id="n-a3_7_v" class="n"><rect x="2129" y="677" width="114" height="48" rx="13" fill="#16d6b6"/><text x="2186" y="701">&lt;a3.7_v&gt;</text></g>
<g id="n-a3_0_q" class="n"><rect x="2268" y="677" width="115" height="48" rx="13" fill="#7a5a0e"/><text x="2325.5" y="701">&lt;a3.0_q&gt;</text></g>
<g id="n-a3_0_k" class="n"><rect x="2459" y="677" width="115" height="48" rx="13" fill="#aa44b4"/><text x="2516.5" y="701">&lt;a3.0_k&gt;</text></g>
<g id="n-a3_0_v" class="n"><rect x="2768" y="677" width="115" height="48" rx="13" fill="#4656ac"/><text x="2825.5" y="701">&lt;a3.0_v&gt;</text></g>
<g id="n-a3_6" class="n"><rect x="1650" y="773" width="93" height="48" rx="13" fill="#b0b830"/><text x="1696.5" y="797">&lt;a3.6&gt;</text></g>
<g id="n-a3_7" class="n"><rect x="2068" y="773" width="94" height="48" rx="13" fill="#7ecc6c"/><text x="2115" y="797">&lt;a3.7&gt;</text></g>
<g id="n-a3_0" class="n"><rect x="2465" y="773" width="94" height="48" rx="13" fill="#07a032"/><text x="2512" y="797">&lt;a3.0&gt;</text></g>
<g id="n-resid_post" class="n"><rect x="2230" y="869" width="147" height="48" rx="13" fill="#9a6426"/><text x="2303.5" y="893">&lt;resid_post&gt;</text></g>
</svg>
